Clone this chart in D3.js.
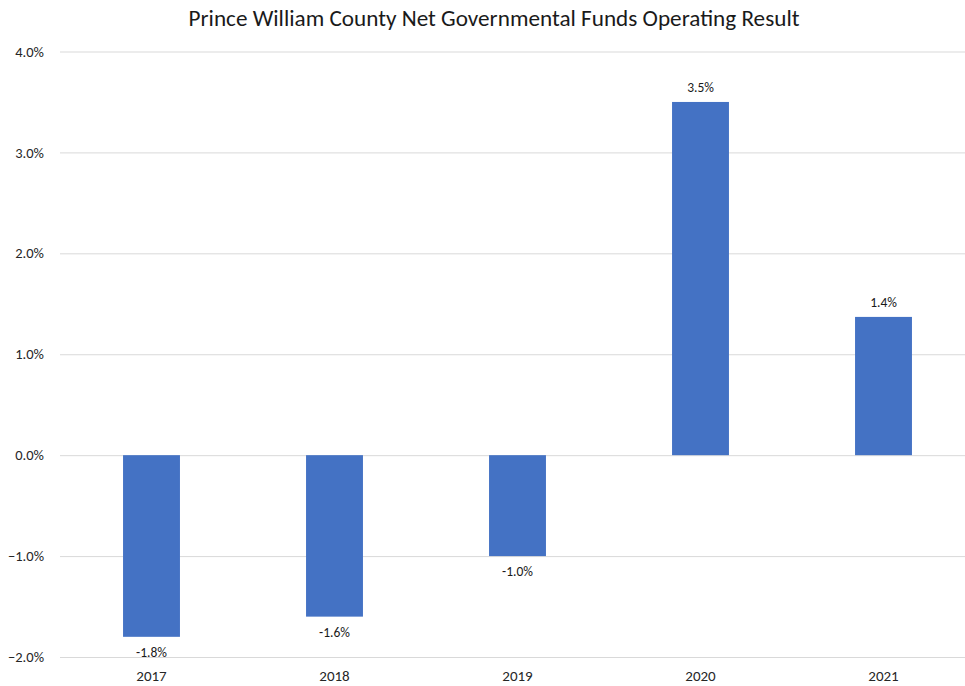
<!DOCTYPE html>
<html><head><meta charset="utf-8">
<script src="https://cdn.jsdelivr.net/npm/d3@7"></script>
<style>body{margin:0;background:#fff}svg{display:block}</style>
</head><body>
<svg id="c" width="965" height="686"></svg>
<script>
const categories = ["2017","2018","2019","2020","2021"];
const values = [-0.018,-0.016,-0.010,0.035,0.0137];
const labels = ["-1.8%","-1.6%","-1.0%","3.5%","1.4%"];
const yTicks = [-0.02,-0.01,0,0.01,0.02,0.03,0.04];
const title = "Prince William County Net Governmental Funds Operating Result";

const FONT = "Carlito, Lato, 'Open Sans', sans-serif";
const svg = d3.select("#c");
const x = d3.scaleBand().domain(categories).range([60,975]).paddingInner(0.689).paddingOuter(0.3445);
const y = d3.scaleLinear().domain([-0.02,0.04]).range([657,51.5]);

svg.append("text").attr("x",494).attr("y",26).attr("text-anchor","middle")
  .attr("font-family",FONT).attr("font-size",23.2).attr("fill","#1a1a1a").text(title);

const ya = svg.append("g").attr("transform","translate(60,0)")
  .call(d3.axisLeft(y).tickValues(yTicks).tickSize(-915).tickPadding(16).tickFormat(d3.format(".1%")));
ya.select(".domain").remove();
ya.selectAll(".tick line").attr("stroke","#d9d9d9").attr("stroke-width",1);
ya.selectAll(".tick text").attr("font-family",FONT).attr("font-size",14.5).attr("fill","#262626");

svg.append("g").selectAll("rect").data(values).join("rect")
  .attr("x",(d,i)=>x(categories[i])).attr("width",x.bandwidth())
  .attr("y",d=>y(Math.max(0,d))).attr("height",d=>Math.abs(y(d)-y(0)))
  .attr("fill","#4472C4");

svg.append("g").selectAll("text").data(values).join("text")
  .attr("x",(d,i)=>x(categories[i])+x.bandwidth()/2)
  .attr("y",d=> d>=0 ? y(d)-10 : y(d)+20)
  .attr("text-anchor","middle").attr("font-family",FONT).attr("font-size",13.5).attr("fill","#1a1a1a")
  .text((d,i)=>labels[i]);

const xa = svg.append("g").attr("transform","translate(0,657)")
  .call(d3.axisBottom(x).tickSize(0).tickPadding(13));
xa.select(".domain").remove();
xa.selectAll(".tick text").attr("font-family",FONT).attr("font-size",15).attr("fill","#262626");
</script>
</body></html>
